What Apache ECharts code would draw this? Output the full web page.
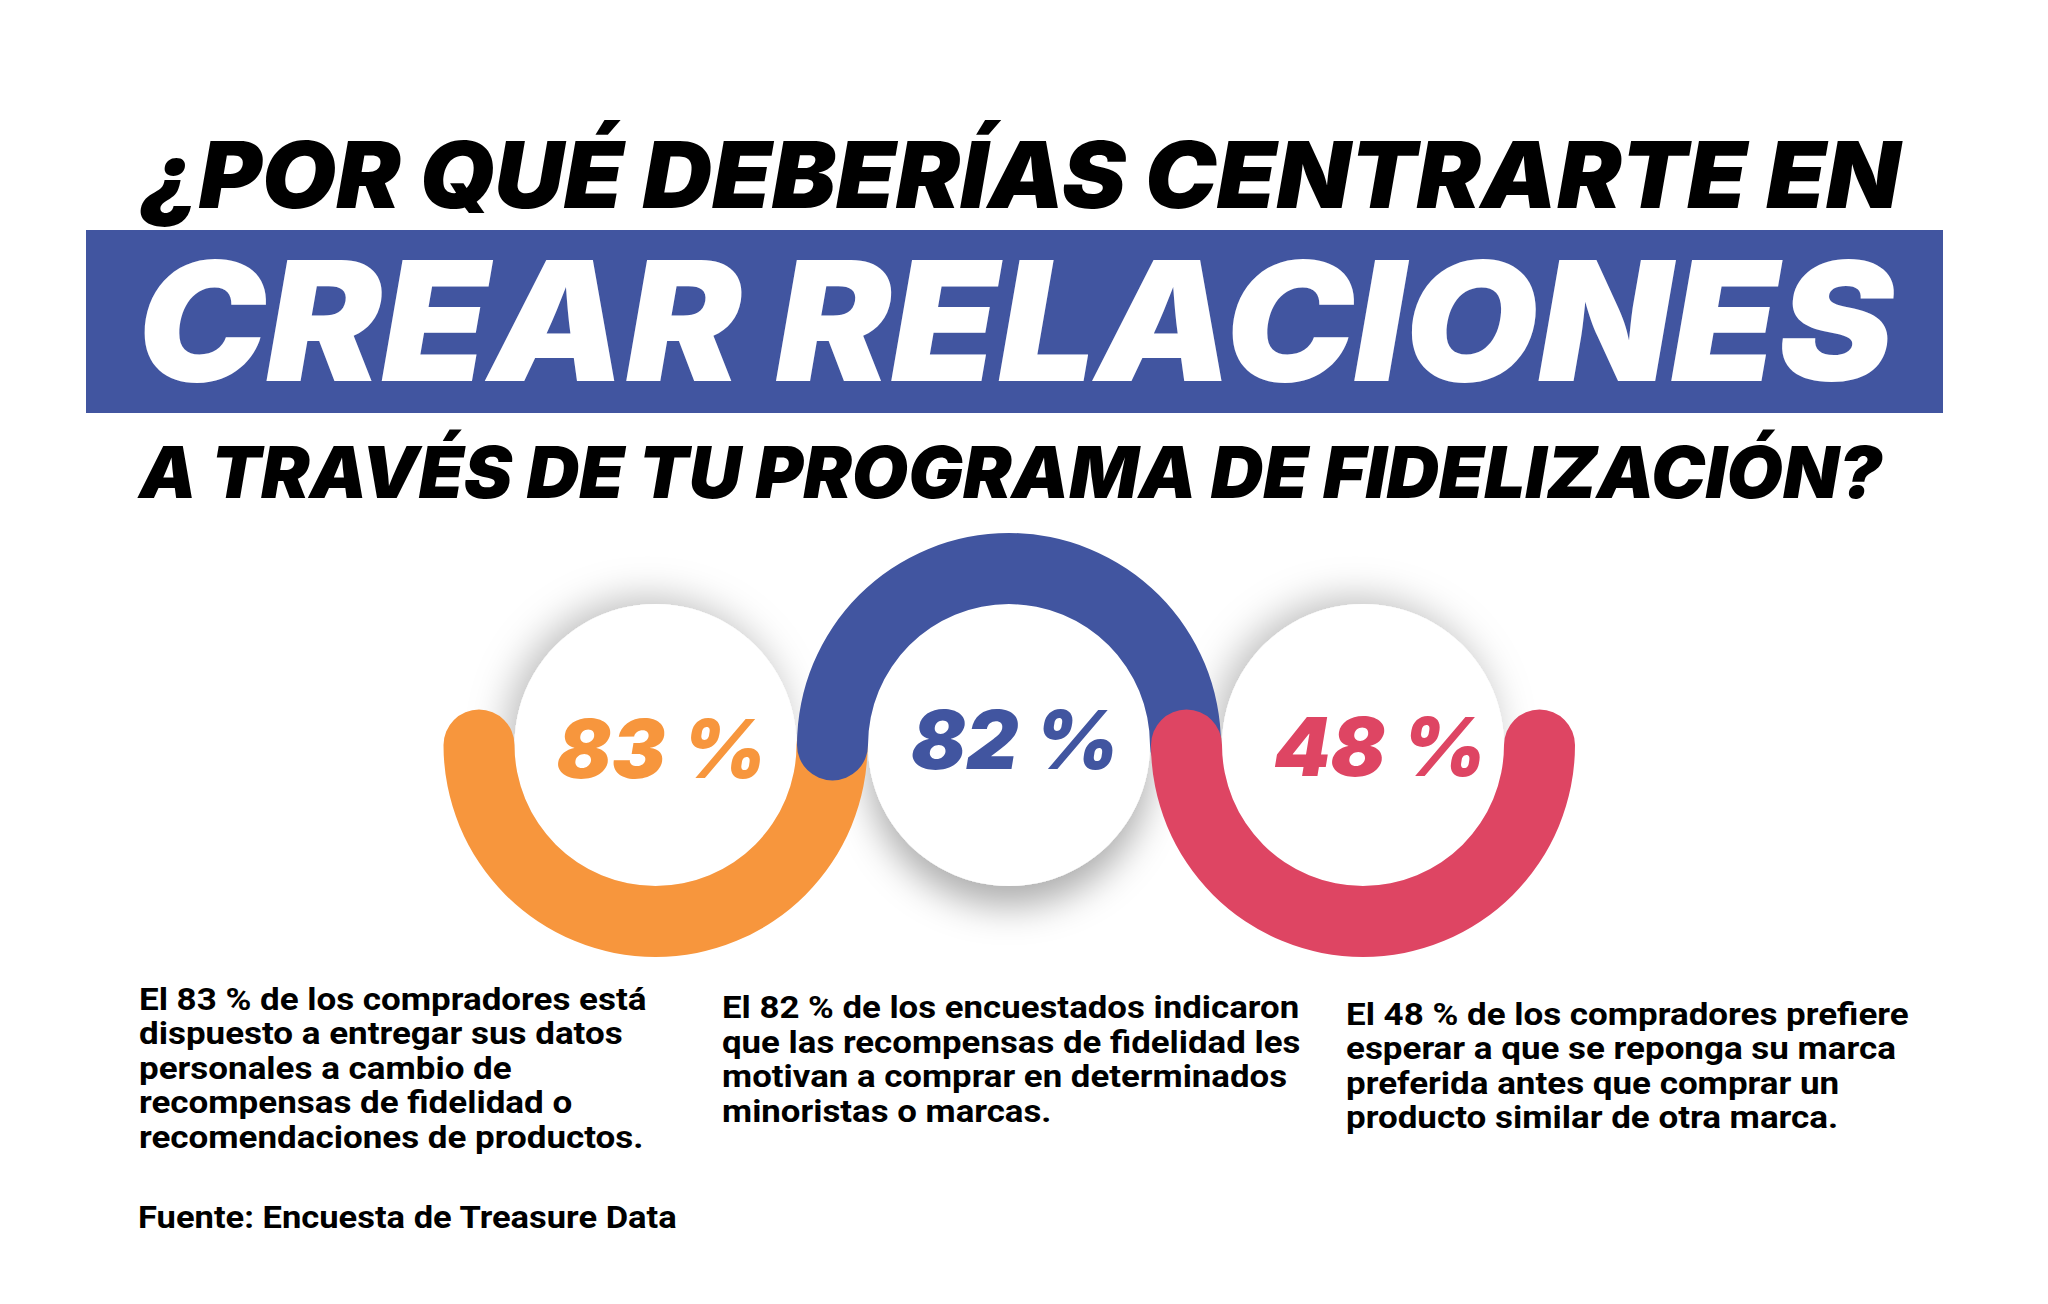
<!DOCTYPE html>
<html><head><meta charset="utf-8">
<script src="https://cdn.jsdelivr.net/npm/echarts@6/dist/echarts.min.js"></script>
<style>html,body{margin:0;padding:0;background:#fff;} #c{width:2048px;height:1304px;}</style>
</head><body><div id="c"></div>
<script>
// ---------- data ----------
const titleLines = ['¿POR QUÉ DEBERÍAS CENTRARTE EN', 'CREAR RELACIONES', 'A TRAVÉS DE TU PROGRAMA DE FIDELIZACIÓN?'];
const categories = ['Compradores que entregan sus datos', 'Encuestados motivados por recompensas', 'Compradores que esperan su marca'];
const values = [83, 82, 48];
const descriptions = [
  ['El 83 % de los compradores está', 'dispuesto a entregar sus datos', 'personales a cambio de', 'recompensas de fidelidad o', 'recomendaciones de productos.'],
  ['El 82 % de los encuestados indicaron', 'que las recompensas de fidelidad les', 'motivan a comprar en determinados', 'minoristas o marcas.'],
  ['El 48 % de los compradores prefiere', 'esperar a que se reponga su marca', 'preferida antes que comprar un', 'producto similar de otra marca.']
];
const sourceNote = 'Fuente: Encuesta de Treasure Data';

// ---------- style / layout ----------
const BLUE = '#4155A0', ORANGE = '#F7963D', RED = '#DE4563';
const ringColors = [ORANGE, BLUE, RED];
const ringUp = [false, true, false];
const centersX = [655.5, 1009, 1363];
const centerY = 745;
const R_OUT = 212, RING_W = 71, R_IN = 141;
const labelOffsets = [[6, 4], [6, -5], [17, 2]];
const discShadows = [
  {blur: 38, color: 'rgba(0,0,0,0.26)', ox: -8, oy: -6},
  {blur: 36, color: 'rgba(0,0,0,0.32)', ox: 0, oy: 20},
  {blur: 38, color: 'rgba(0,0,0,0.26)', ox: -8, oy: -6}
];
const FONT_FAM = 'Inter, "Noto Sans", sans-serif';
const BODY_FAM = 'Roboto, Inter, sans-serif';

const mctx = document.createElement('canvas').getContext('2d');
function measure(text, font) { mctx.font = font; return mctx.measureText(text).width; }

function fitText(text, font, x, yCenter, targetW, fill, lineHeight) {
  const lines = Array.isArray(text) ? text : [text];
  const w = measure(lines[0], font);
  const lh = lineHeight || 0;
  return {
    type: 'text', x: x, y: lh ? yCenter - lh / 2 : yCenter,
    scaleX: targetW / w, silent: true,
    style: {
      text: lines.join('\n'), x: 0, y: 0, font: font, fill: fill,
      align: 'left', verticalAlign: lh ? 'top' : 'middle',
      lineHeight: lh || undefined
    }
  };
}

const BODY_FONT = '700 30.5px ' + BODY_FAM;
const graphics = [
  {type: 'rect', silent: true, shape: {x: 86, y: 230, width: 1857, height: 183}, style: {fill: BLUE}},
  fitText(titleLines[0], 'italic 900 92px ' + FONT_FAM, 141, 175, 1760, '#000'),
  fitText(titleLines[1], 'italic 900 166px ' + FONT_FAM, 137, 321, 1757, '#fff'),
  fitText(titleLines[2], 'italic 900 72px ' + FONT_FAM, 139, 472, 1743, '#000'),
  fitText(descriptions[0], BODY_FONT, 139, 999.5, 508, '#000', 34.5),
  fitText(descriptions[1], BODY_FONT, 722, 1008, 577, '#000', 34.5),
  fitText(descriptions[2], BODY_FONT, 1346, 1014.5, 563, '#000', 34.5),
  fitText(sourceNote, BODY_FONT, 138, 1217.5, 540, '#000')
];

const hidden = {
  pointer: {show: false}, anchor: {show: false}, progress: {show: false},
  axisTick: {show: false}, splitLine: {show: false}, axisLabel: {show: false},
  title: {show: false}
};

const series = [];
// white discs with shadows
values.forEach((v, i) => {
  const s = discShadows[i];
  series.push(Object.assign({
    type: 'gauge', name: categories[i] + ' (fondo)', silent: true,
    center: [centersX[i], centerY], radius: R_IN,
    startAngle: 90, endAngle: -270, min: 0, max: 100,
    axisLine: {show: true, roundCap: false, lineStyle: {width: R_IN, color: [[1, '#ffffff']],
      shadowBlur: s.blur, shadowColor: s.color, shadowOffsetX: s.ox, shadowOffsetY: s.oy}},
    detail: {show: false},
    data: [{value: v, name: categories[i]}]
  }, hidden));
});
// half rings with percentage labels
values.forEach((v, i) => {
  const up = ringUp[i];
  series.push(Object.assign({
    type: 'gauge', name: categories[i], silent: true,
    center: [centersX[i], centerY], radius: R_OUT,
    startAngle: up ? 180 : 0,
    endAngle: up ? 0 : -180,
    clockwise: true, min: 0, max: 100,
    axisLine: {show: true, roundCap: true, lineStyle: {width: RING_W, color: [[1, ringColors[i]]]}},
    detail: {
      show: true, valueAnimation: false, formatter: '{value} %',
      color: ringColors[i], fontSize: 81, fontWeight: 900, fontStyle: 'italic',
      fontFamily: FONT_FAM, offsetCenter: labelOffsets[i]
    },
    data: [{value: v, name: categories[i]}]
  }, hidden));
});

const chart = echarts.init(document.getElementById('c'), null, {renderer: 'svg', width: 2048, height: 1304});
chart.setOption({
  backgroundColor: '#ffffff',
  animation: false,
  graphic: {elements: graphics},
  series: series
});
</script></body></html>
